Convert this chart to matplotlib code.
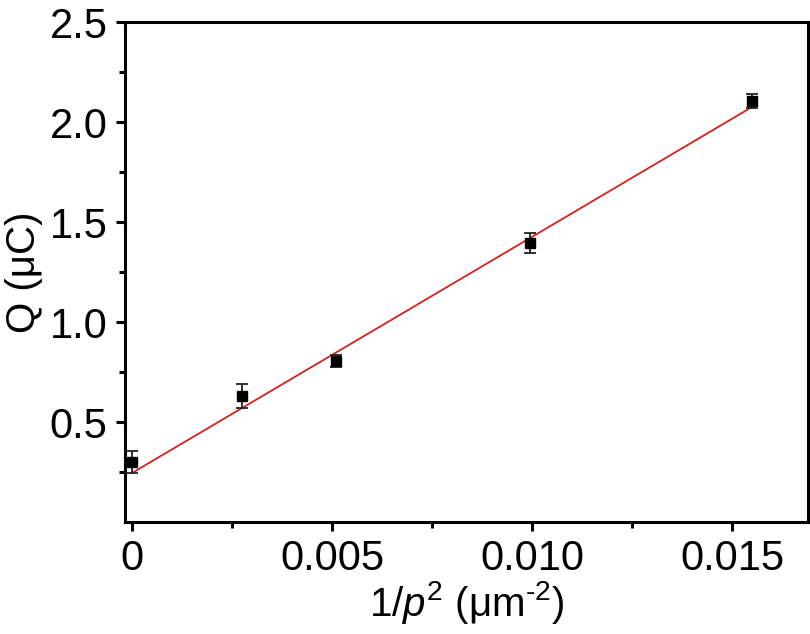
import numpy as np
import matplotlib
matplotlib.use("Agg")
import matplotlib.pyplot as plt
from matplotlib.ticker import FixedLocator

plt.rcParams['font.family'] = ['Liberation Sans', 'DejaVu Sans']
plt.rcParams['mathtext.fontset'] = 'custom'
plt.rcParams['mathtext.it'] = 'Liberation Sans:italic'
plt.rcParams['mathtext.rm'] = 'Liberation Sans'

# data
inv_p2 = [0.0, 0.00275, 0.0051, 0.00995, 0.0155]
charge = [0.30, 0.63, 0.805, 1.395, 2.105]
charge_err = [0.055, 0.062, 0.032, 0.052, 0.035]

# linear fit line
fit_x = [0.0, 0.0155]
fit_y = [0.245, 2.075]

fig = plt.figure(figsize=(8.1, 6.34), dpi=100)
ax = fig.add_axes([125/810, 1 - 522/634, 683/810, 500/634])

ax.plot(fit_x, fit_y, color='#d62020', lw=1.3, zorder=2)
ax.errorbar(inv_p2, charge, yerr=charge_err, fmt='s', color='black', ms=7,
            ecolor='#222222', elinewidth=1.3, capsize=4.5, capthick=1.3, zorder=3)

ax.set_xlim(-0.000175, 0.0169)
ax.set_ylim(0.0, 2.5)

ax.xaxis.set_major_locator(FixedLocator([0, 0.005, 0.010, 0.015]))
ax.set_xticklabels(['0', '0.005', '0.010', '0.015'])
ax.xaxis.set_minor_locator(FixedLocator([0.0025, 0.0075, 0.0125]))
ax.yaxis.set_major_locator(FixedLocator([0.5, 1.0, 1.5, 2.0, 2.5]))
ax.set_yticklabels(['0.5', '1.0', '1.5', '2.0', '2.5'])
ax.yaxis.set_minor_locator(FixedLocator([0.25, 0.75, 1.25, 1.75, 2.25]))

for s in ax.spines.values():
    s.set_linewidth(2.2)
ax.tick_params(which='major', direction='out', length=6.5, width=2.2, labelsize=30, pad=6)
ax.tick_params(which='minor', direction='out', length=4, width=2.2)

ax.set_xlabel(r'1/$\mathit{p}^2$ ($\mathrm{\mu}$m$^{\text{-}2}$)', fontsize=29, labelpad=0)
ax.set_ylabel('Q (μC)', fontsize=29, labelpad=5)

fig.savefig('out.png', dpi=100)
